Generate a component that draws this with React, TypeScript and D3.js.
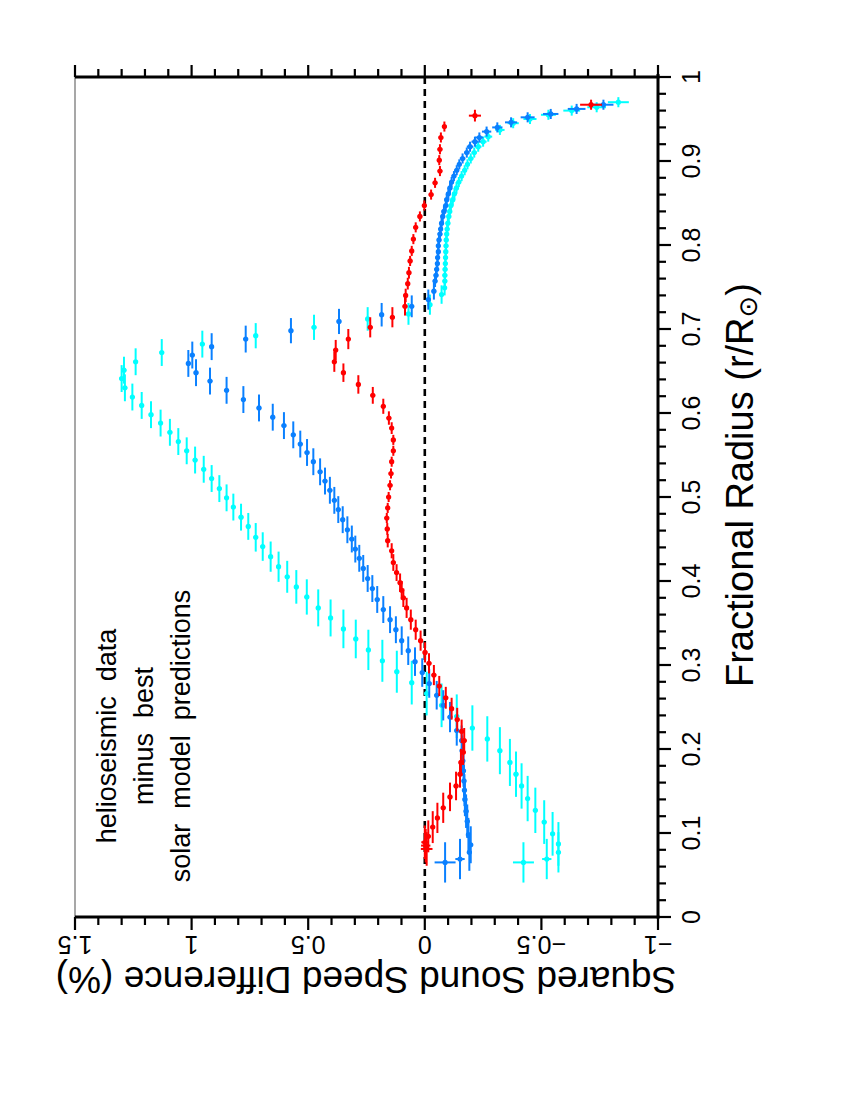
import React from 'react';
import * as d3 from 'd3';

// each point: [fractional radius, squared sound speed difference (%), radius error, difference error]
type Pt = [number, number, number, number];

const cyanPts: Pt[] = [
  [0.065, -0.423, 0.024, 0.045], [0.069, -0.523, 0.024, 0.02], [0.077, -0.573, 0.024, 0.01],
  [0.087, -0.573, 0.026, 0.01], [0.099, -0.548, 0.026, 0.01], [0.113, -0.512, 0.026, 0.01],
  [0.127, -0.474, 0.027, 0.01], [0.141, -0.441, 0.027, 0.01], [0.156, -0.415, 0.027, 0.01],
  [0.170, -0.391, 0.027, 0.01], [0.184, -0.365, 0.028, 0.01], [0.198, -0.322, 0.028, 0.01],
  [0.212, -0.268, 0.027, 0.01], [0.225, -0.204, 0.027, 0.01], [0.239, -0.137, 0.026, 0.01],
  [0.252, -0.072, 0.026, 0.01], [0.266, -0.008, 0.026, 0.01], [0.279, 0.056, 0.026, 0.01],
  [0.292, 0.120, 0.025, 0.01], [0.305, 0.182, 0.025, 0.01], [0.318, 0.242, 0.024, 0.01],
  [0.331, 0.296, 0.023, 0.01], [0.343, 0.349, 0.023, 0.01], [0.356, 0.404, 0.022, 0.01],
  [0.368, 0.457, 0.022, 0.01], [0.381, 0.506, 0.021, 0.01], [0.393, 0.551, 0.02, 0.01],
  [0.405, 0.590, 0.019, 0.01], [0.417, 0.627, 0.018, 0.01], [0.429, 0.661, 0.018, 0.01],
  [0.441, 0.695, 0.017, 0.01], [0.452, 0.725, 0.017, 0.01], [0.465, 0.757, 0.016, 0.01],
  [0.476, 0.788, 0.016, 0.01], [0.488, 0.821, 0.016, 0.01], [0.499, 0.850, 0.016, 0.01],
  [0.510, 0.881, 0.016, 0.01], [0.522, 0.914, 0.016, 0.01], [0.533, 0.948, 0.016, 0.01],
  [0.544, 0.985, 0.016, 0.01], [0.555, 1.021, 0.016, 0.01], [0.566, 1.057, 0.016, 0.01],
  [0.577, 1.093, 0.016, 0.01], [0.588, 1.133, 0.016, 0.01], [0.598, 1.174, 0.016, 0.01],
  [0.609, 1.214, 0.016, 0.01], [0.619, 1.254, 0.016, 0.01], [0.630, 1.286, 0.016, 0.01],
  [0.641, 1.300, 0.016, 0.01], [0.651, 1.290, 0.016, 0.01], [0.661, 1.240, 0.016, 0.01],
  [0.672, 1.128, 0.016, 0.01], [0.682, 0.954, 0.016, 0.01], [0.692, 0.725, 0.015, 0.01],
  [0.702, 0.475, 0.015, 0.01], [0.712, 0.245, 0.014, 0.01], [0.718, 0.070, 0.013, 0.01],
  [0.729, -0.022, 0.012, 0.01], [0.741, -0.072, 0.011, 0.01], [0.749, -0.085, 0.009, 0.01],
  [0.757, -0.086, 0.007, 0.01], [0.764, -0.086, 0.007, 0.01], [0.771, -0.087, 0.007, 0.01],
  [0.778, -0.088, 0.007, 0.01], [0.785, -0.089, 0.007, 0.01], [0.792, -0.090, 0.007, 0.01],
  [0.799, -0.091, 0.007, 0.01], [0.806, -0.092, 0.007, 0.01], [0.813, -0.094, 0.007, 0.01],
  [0.819, -0.096, 0.007, 0.01], [0.826, -0.099, 0.007, 0.01], [0.834, -0.103, 0.007, 0.01],
  [0.840, -0.107, 0.007, 0.01], [0.847, -0.112, 0.007, 0.01], [0.854, -0.120, 0.007, 0.01],
  [0.861, -0.127, 0.007, 0.01], [0.868, -0.136, 0.007, 0.01], [0.875, -0.146, 0.006, 0.01],
  [0.882, -0.158, 0.006, 0.01], [0.889, -0.171, 0.006, 0.01], [0.896, -0.183, 0.006, 0.01],
  [0.903, -0.197, 0.006, 0.012], [0.910, -0.212, 0.006, 0.012], [0.917, -0.229, 0.006, 0.014],
  [0.923, -0.250, 0.006, 0.015], [0.929, -0.272, 0.006, 0.017], [0.937, -0.322, 0.006, 0.02],
  [0.945, -0.379, 0.006, 0.024], [0.950, -0.451, 0.006, 0.028], [0.955, -0.530, 0.006, 0.032],
  [0.960, -0.630, 0.006, 0.036], [0.964, -0.737, 0.006, 0.04], [0.970, -0.830, 0.006, 0.045],
];

const bluePts: Pt[] = [
  [0.065, -0.087, 0.024, 0.045], [0.069, -0.151, 0.024, 0.02], [0.077, -0.191, 0.022, 0.01],
  [0.086, -0.197, 0.022, 0.01], [0.098, -0.187, 0.02, 0.01], [0.114, -0.182, 0.02, 0.01],
  [0.126, -0.177, 0.02, 0.01], [0.140, -0.172, 0.02, 0.01], [0.151, -0.170, 0.019, 0.01],
  [0.162, -0.168, 0.019, 0.01], [0.174, -0.166, 0.019, 0.01], [0.186, -0.163, 0.018, 0.01],
  [0.198, -0.160, 0.018, 0.01], [0.210, -0.158, 0.018, 0.01], [0.222, -0.137, 0.018, 0.01],
  [0.238, -0.108, 0.018, 0.01], [0.252, -0.079, 0.018, 0.01], [0.264, -0.051, 0.017, 0.01],
  [0.278, -0.019, 0.017, 0.01], [0.291, 0.011, 0.017, 0.01], [0.304, 0.042, 0.017, 0.01],
  [0.317, 0.071, 0.017, 0.01], [0.329, 0.099, 0.017, 0.01], [0.342, 0.124, 0.016, 0.01],
  [0.354, 0.149, 0.016, 0.01], [0.366, 0.178, 0.016, 0.01], [0.378, 0.204, 0.016, 0.01],
  [0.391, 0.225, 0.016, 0.01], [0.403, 0.245, 0.016, 0.01], [0.415, 0.264, 0.016, 0.01],
  [0.427, 0.281, 0.016, 0.01], [0.438, 0.298, 0.016, 0.01], [0.450, 0.313, 0.016, 0.01],
  [0.461, 0.332, 0.016, 0.01], [0.473, 0.352, 0.016, 0.01], [0.485, 0.371, 0.016, 0.01],
  [0.496, 0.388, 0.016, 0.01], [0.508, 0.407, 0.016, 0.01], [0.519, 0.428, 0.016, 0.01],
  [0.530, 0.449, 0.016, 0.01], [0.542, 0.478, 0.016, 0.01], [0.553, 0.505, 0.016, 0.01],
  [0.563, 0.534, 0.016, 0.01], [0.574, 0.564, 0.016, 0.01], [0.585, 0.604, 0.016, 0.01],
  [0.595, 0.652, 0.016, 0.01], [0.606, 0.711, 0.016, 0.01], [0.616, 0.778, 0.016, 0.01],
  [0.627, 0.850, 0.016, 0.01], [0.638, 0.921, 0.016, 0.01], [0.648, 0.981, 0.016, 0.01],
  [0.659, 1.014, 0.016, 0.01], [0.669, 0.997, 0.016, 0.01], [0.679, 0.914, 0.016, 0.01],
  [0.688, 0.768, 0.016, 0.01], [0.698, 0.574, 0.015, 0.01], [0.709, 0.368, 0.015, 0.01],
  [0.717, 0.185, 0.014, 0.01], [0.727, 0.056, 0.013, 0.01], [0.735, -0.015, 0.012, 0.01],
  [0.745, -0.039, 0.01, 0.01], [0.757, -0.044, 0.007, 0.01], [0.764, -0.048, 0.007, 0.01],
  [0.771, -0.051, 0.007, 0.01], [0.778, -0.054, 0.007, 0.01], [0.785, -0.055, 0.007, 0.01],
  [0.792, -0.058, 0.007, 0.01], [0.799, -0.058, 0.007, 0.01], [0.806, -0.061, 0.007, 0.01],
  [0.813, -0.065, 0.007, 0.01], [0.819, -0.068, 0.007, 0.01], [0.826, -0.072, 0.007, 0.01],
  [0.834, -0.077, 0.007, 0.01], [0.840, -0.082, 0.007, 0.01], [0.847, -0.090, 0.007, 0.01],
  [0.854, -0.094, 0.007, 0.01], [0.861, -0.101, 0.007, 0.01], [0.868, -0.108, 0.007, 0.01],
  [0.875, -0.115, 0.006, 0.01], [0.882, -0.125, 0.006, 0.01], [0.889, -0.137, 0.006, 0.01],
  [0.896, -0.148, 0.006, 0.01], [0.903, -0.162, 0.006, 0.012], [0.910, -0.180, 0.006, 0.012],
  [0.917, -0.194, 0.006, 0.014], [0.923, -0.215, 0.006, 0.015], [0.928, -0.234, 0.006, 0.017],
  [0.935, -0.265, 0.006, 0.02], [0.940, -0.311, 0.006, 0.022], [0.946, -0.370, 0.006, 0.026],
  [0.952, -0.441, 0.006, 0.03], [0.956, -0.540, 0.006, 0.033], [0.962, -0.651, 0.006, 0.038],
  [0.967, -0.766, 0.006, 0.043],
];

const redPts: Pt[] = [
  [0.081, -0.008, 0.02, 0.025], [0.085, -0.004, 0.02, 0.02], [0.089, 0.000, 0.02, 0.015],
  [0.096, -0.015, 0.019, 0.01], [0.107, -0.034, 0.019, 0.01], [0.118, -0.054, 0.018, 0.01],
  [0.130, -0.079, 0.018, 0.01], [0.143, -0.108, 0.017, 0.01], [0.156, -0.134, 0.017, 0.01],
  [0.170, -0.151, 0.016, 0.01], [0.184, -0.155, 0.016, 0.01], [0.196, -0.165, 0.015, 0.01],
  [0.210, -0.169, 0.015, 0.01], [0.221, -0.158, 0.014, 0.01], [0.235, -0.139, 0.014, 0.01],
  [0.248, -0.115, 0.013, 0.01], [0.261, -0.090, 0.013, 0.01], [0.275, -0.062, 0.012, 0.01],
  [0.288, -0.039, 0.012, 0.01], [0.302, -0.018, 0.012, 0.01], [0.315, -0.001, 0.012, 0.01],
  [0.329, 0.018, 0.012, 0.01], [0.342, 0.039, 0.012, 0.01], [0.354, 0.060, 0.012, 0.01],
  [0.368, 0.078, 0.012, 0.01], [0.380, 0.092, 0.011, 0.01], [0.389, 0.099, 0.011, 0.01],
  [0.398, 0.106, 0.011, 0.01], [0.410, 0.121, 0.01, 0.01], [0.422, 0.135, 0.01, 0.01],
  [0.436, 0.142, 0.009, 0.01], [0.448, 0.159, 0.008, 0.01], [0.462, 0.161, 0.007, 0.01],
  [0.475, 0.163, 0.006, 0.01], [0.487, 0.159, 0.006, 0.01], [0.500, 0.155, 0.006, 0.01],
  [0.514, 0.149, 0.006, 0.01], [0.528, 0.145, 0.006, 0.01], [0.542, 0.142, 0.006, 0.01],
  [0.555, 0.135, 0.006, 0.01], [0.568, 0.135, 0.006, 0.01], [0.582, 0.142, 0.007, 0.01],
  [0.594, 0.154, 0.008, 0.01], [0.608, 0.178, 0.009, 0.01], [0.621, 0.223, 0.01, 0.01],
  [0.634, 0.285, 0.011, 0.01], [0.648, 0.349, 0.011, 0.01], [0.661, 0.388, 0.012, 0.01],
  [0.675, 0.382, 0.012, 0.01], [0.688, 0.328, 0.012, 0.01], [0.702, 0.234, 0.012, 0.01],
  [0.714, 0.139, 0.012, 0.01], [0.727, 0.085, 0.011, 0.01], [0.740, 0.082, 0.008, 0.01],
  [0.754, 0.073, 0.007, 0.01], [0.767, 0.068, 0.007, 0.01], [0.781, 0.063, 0.006, 0.01],
  [0.793, 0.056, 0.006, 0.01], [0.807, 0.049, 0.006, 0.01], [0.821, 0.039, 0.006, 0.01],
  [0.834, 0.021, 0.006, 0.01], [0.847, 0.002, 0.006, 0.01], [0.860, -0.027, 0.006, 0.01],
  [0.874, -0.044, 0.006, 0.01], [0.888, -0.065, 0.006, 0.01], [0.901, -0.062, 0.006, 0.01],
  [0.914, -0.065, 0.006, 0.01], [0.928, -0.069, 0.006, 0.01], [0.941, -0.084, 0.006, 0.01],
  [0.954, -0.215, 0.007, 0.026], [0.967, -0.713, 0.006, 0.047],
];

const radiusTicks = [0, 0.1, 0.2, 0.3, 0.4, 0.5, 0.6, 0.7, 0.8, 0.9, 1];
const diffTicks = [1.5, 1, 0.5, 0, -0.5, -1];
const noteLines = ['helioseismic  data', 'minus  best', 'solar  model  predictions'];

const series = [
  { name: 'cyan', pts: cyanPts, color: '#00ffff' },
  { name: 'blue', pts: bluePts, color: '#0a80ff' },
  { name: 'red', pts: redPts, color: '#ff0000' },
];

const FONT = '"Liberation Sans", Arial, Helvetica, sans-serif';

export default function App() {
  const left = 75, right = 658, top = 77, bottom = 917;

  // the plot is drawn turned on its side: radius runs up the page, difference runs right-to-left
  const y = d3.scaleLinear().domain([0, 1]).range([bottom, top]);
  const x = d3.scaleLinear().domain([1.5, -1]).range([left, right]);

  const fmt = (v: number) => (v === 0 ? '0' : d3.format('~g')(v).replace('-', '\u2212'));
  const minorR = d3.range(0, 51).map(i => i * 0.02);
  const minorD = d3.range(-10, 16).map(i => i * 0.1);

  return (
    <svg width={850} height={1100} style={{ position: 'absolute', left: 0, top: 0, background: '#fff' }}
      fontFamily={FONT}>
      {/* zero line */}
      <line x1={x(0)} x2={x(0)} y1={top} y2={bottom} stroke="#000" strokeWidth={2.6} strokeDasharray="7 5" />

      {series.map(s => (
        <g key={s.name} stroke={s.color} fill={s.color} strokeWidth={2}>
          {s.pts.map((p, i) => (
            <g key={i}>
              <line x1={x(p[1])} x2={x(p[1])} y1={y(p[0] - p[2])} y2={y(p[0] + p[2])} />
              <line x1={x(p[1] + p[3])} x2={x(p[1] - p[3])} y1={y(p[0])} y2={y(p[0])} />
              <circle cx={x(p[1])} cy={y(p[0])} r={2.6} stroke="none" />
            </g>
          ))}
        </g>
      ))}

      {/* frame */}
      <line x1={left} x2={left} y1={top} y2={bottom} stroke="#8a8a8a" strokeWidth={1.5} />
      <line x1={left} x2={right + 1.5} y1={top} y2={top} stroke="#000" strokeWidth={3} />
      <line x1={left} x2={right + 1.5} y1={bottom} y2={bottom} stroke="#000" strokeWidth={3} />
      <line x1={right} x2={right} y1={top - 3} y2={bottom + 1.5} stroke="#000" strokeWidth={3} />

      {/* difference ticks, top and bottom */}
      {minorD.map((v, i) => {
        const major = Math.abs(v * 2 - Math.round(v * 2)) < 1e-6;
        return (
          <g key={'d' + i} stroke="#000" strokeWidth={2.2}>
            <line x1={x(v)} x2={x(v)} y1={top} y2={top - (major ? 12 : 8)} />
            <line x1={x(v)} x2={x(v)} y1={bottom} y2={bottom + (major ? 13 : 8)} />
          </g>
        );
      })}
      {/* radius ticks, right */}
      {minorR.map((v, i) => (
        <line key={'r' + i} x1={right} x2={right + (i % 5 === 0 ? 13 : 8)} y1={y(v)} y2={y(v)}
          stroke="#000" strokeWidth={2.2} />
      ))}

      {radiusTicks.map(v => (
        <text key={'rl' + v} transform={`translate(691,${y(v)}) rotate(-90)`} textAnchor="middle"
          dominantBaseline="central" fontSize={25}>{fmt(v)}</text>
      ))}
      {diffTicks.map(v => (
        <text key={'dl' + v} transform={`translate(${x(v)},945) rotate(180)`} textAnchor="middle"
          dominantBaseline="central" fontSize={25}>{fmt(v)}</text>
      ))}

      <text transform="translate(366,979) rotate(180)" textAnchor="middle" dominantBaseline="central"
        fontSize={37}>Squared Sound Speed Difference (%)</text>
      <text transform="translate(740,485) rotate(-90)" textAnchor="middle" dominantBaseline="central"
        fontSize={38}>
        Fractional Radius (r/R<tspan fontSize={26} dy={8} fontFamily='"DejaVu Sans", sans-serif'>{'\u2299'}</tspan>
        <tspan dy={-8}>)</tspan>
      </text>

      {noteLines.map((t, i) => (
        <text key={t} transform={`translate(${107 + i * 37},736) rotate(-90)`} textAnchor="middle"
          dominantBaseline="central" fontSize={27} style={{ whiteSpace: 'pre' }}>{t}</text>
      ))}
    </svg>
  );
}
